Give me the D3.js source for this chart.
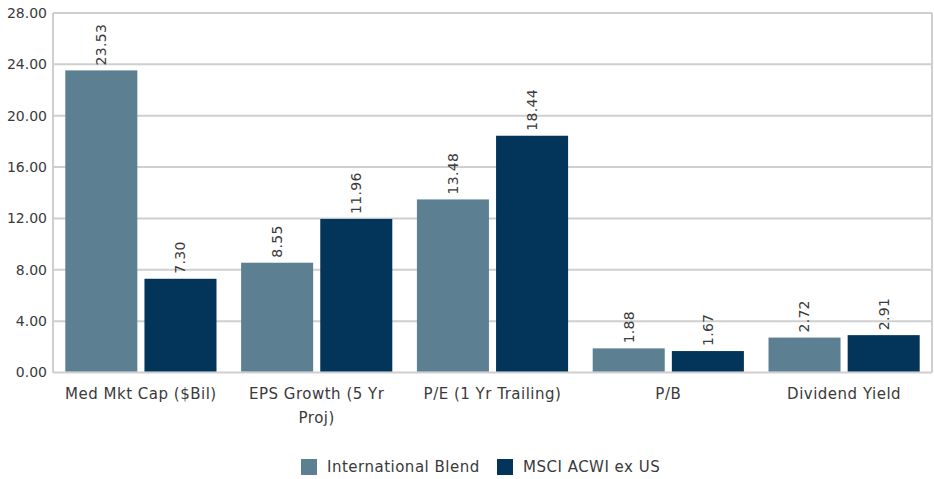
<!DOCTYPE html>
<html>
<head>
<meta charset="utf-8">
<script src="https://cdn.jsdelivr.net/npm/d3@7"></script>
<style>
  body { margin: 0; background: #fff; }
  svg text { font-family: "DejaVu Sans", sans-serif; fill: #3a3a3a; }
</style>
</head>
<body>
<div id="chart"></div>
<script>
var categories = ["Med Mkt Cap ($Bil)", "EPS Growth (5 Yr Proj)", "P/E (1 Yr Trailing)", "P/B", "Dividend Yield"];
var seriesNames = ["International Blend", "MSCI ACWI ex US"];
var intlBlend = [23.53, 8.55, 13.48, 1.88, 2.72];
var msciAcwi = [7.30, 11.96, 18.44, 1.67, 2.91];
var yTicks = [0, 4, 8, 12, 16, 20, 24, 28];
var colors = ["#5d7f92", "#033459"];

var width = 934, height = 479;
var margin = {top: 13, right: 2, bottom: 107, left: 53};

var svg = d3.select("#chart").append("svg")
  .attr("width", width)
  .attr("height", height);

var x = d3.scaleBand()
  .domain(categories)
  .range([margin.left, width - margin.right])
  .paddingInner(0.14)
  .paddingOuter(0.07);

var x1 = d3.scaleBand()
  .domain(seriesNames)
  .range([0, x.bandwidth()])
  .paddingInner(0.09);

var y = d3.scaleLinear()
  .domain([0, 28])
  .range([height - margin.bottom + 0.5, margin.top]);

// gridlines
svg.append("g")
  .selectAll("line")
  .data(yTicks)
  .enter().append("line")
  .attr("x1", margin.left)
  .attr("x2", width - margin.right)
  .attr("y1", d => y(d))
  .attr("y2", d => y(d))
  .attr("stroke", "#cfcfcf")
  .attr("stroke-width", 2);

// left and right borders
svg.append("line")
  .attr("x1", margin.left).attr("x2", margin.left)
  .attr("y1", y(28)).attr("y2", y(0))
  .attr("stroke", "#cfcfcf").attr("stroke-width", 2);
svg.append("line")
  .attr("x1", width - margin.right).attr("x2", width - margin.right)
  .attr("y1", y(28)).attr("y2", y(0))
  .attr("stroke", "#cfcfcf").attr("stroke-width", 2);

// y tick labels
svg.append("g")
  .selectAll("text")
  .data(yTicks)
  .enter().append("text")
  .attr("x", margin.left - 6)
  .attr("y", d => y(d))
  .attr("dy", "0.35em")
  .attr("text-anchor", "end")
  .style("font-size", "14px")
  .text(d => d.toFixed(2));

var rows = categories.map((c, i) => ({cat: c, vals: [intlBlend[i], msciAcwi[i]]}));

var groups = svg.append("g")
  .selectAll("g")
  .data(rows)
  .enter().append("g")
  .attr("transform", d => "translate(" + x(d.cat) + ",0)");

var bars = groups.selectAll("g")
  .data(d => d.vals.map((v, j) => ({name: seriesNames[j], value: v, j: j})))
  .enter().append("g");

bars.append("rect")
  .attr("x", d => x1(d.name))
  .attr("width", x1.bandwidth())
  .attr("y", d => y(d.value))
  .attr("height", d => y(0) - y(d.value) - 1)
  .attr("fill", d => colors[d.j]);

bars.append("text")
  .attr("transform", d => "translate(" + (x1(d.name) + x1.bandwidth() / 2) + "," + (y(d.value) - 5) + ") rotate(-90)")
  .attr("dy", "0.35em")
  .attr("text-anchor", "start")
  .style("font-size", "14px")
  .style("letter-spacing", "0.3px")
  .text(d => d.value.toFixed(2));

// category labels, wrapped
var catLines = {
  "EPS Growth (5 Yr Proj)": ["EPS Growth (5 Yr", "Proj)"]
};
svg.append("g")
  .selectAll("text")
  .data(categories)
  .enter().append("text")
  .attr("x", d => x(d) + x.bandwidth() / 2)
  .attr("y", y(0) + 26)
  .attr("text-anchor", "middle")
  .style("font-size", "15px")
  .style("letter-spacing", "0.5px")
  .each(function(d) {
    var lines = catLines[d] || [d];
    var t = d3.select(this);
    lines.forEach((l, i) => {
      t.append("tspan")
        .attr("x", x(d) + x.bandwidth() / 2)
        .attr("dy", i === 0 ? 0 : "1.6em")
        .text(l);
    });
  });

// legend
var legendX = [301, 497];
var legend = svg.append("g")
  .selectAll("g")
  .data(seriesNames)
  .enter().append("g")
  .attr("transform", (d, i) => "translate(" + legendX[i] + ",459)");
legend.append("rect")
  .attr("width", 16).attr("height", 16)
  .attr("fill", (d, i) => colors[i]);
legend.append("text")
  .attr("x", 26).attr("y", 8)
  .attr("dy", "0.35em")
  .style("font-size", "15px")
  .style("letter-spacing", "0.5px")
  .text(d => d);
</script>
</body>
</html>
